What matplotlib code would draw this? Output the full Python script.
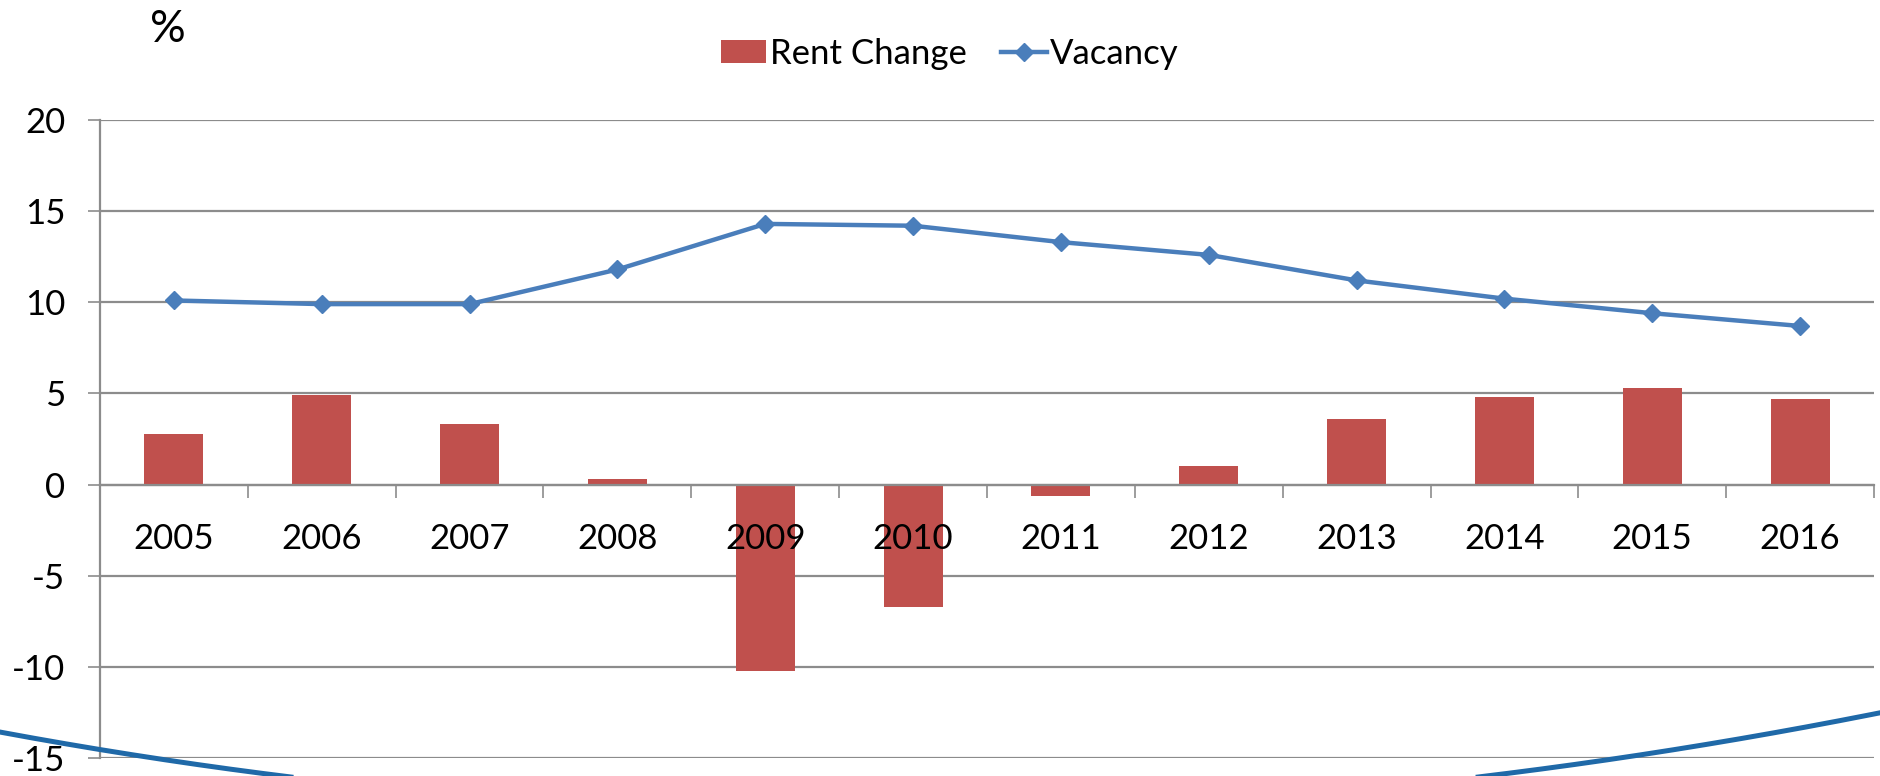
import matplotlib.pyplot as plt
import numpy as np
from matplotlib.lines import Line2D

plt.rcParams['font.family'] = ['Lato', 'DejaVu Sans']

years = ['2005', '2006', '2007', '2008', '2009', '2010',
         '2011', '2012', '2013', '2014', '2015', '2016']
rent_change = [2.8, 4.9, 3.3, 0.3, -10.2, -6.7, -0.6, 1.0, 3.6, 4.8, 5.3, 4.7]
vacancy = [10.1, 9.9, 9.9, 11.8, 14.3, 14.2, 13.3, 12.6, 11.2, 10.2, 9.4, 8.7]
y_ticks = [-15, -10, -5, 0, 5, 10, 15, 20]

colors = {
    "bar": "#C0504D",
    "line": "#4A7EBB",
    "grid": "#8C8C8C",
    "swoosh": "#1F69A8",
}

W, H = 1881, 776
fig = plt.figure(figsize=(W / 100, H / 100), dpi=100)
ax = fig.add_axes([100 / W, 1 - 758 / H, 1774 / W, (758 - 120) / H])

x = np.arange(len(years))
bars = ax.bar(x, rent_change, width=0.4, color=colors["bar"], zorder=2)
line, = ax.plot(x, vacancy, color=colors["line"], lw=3.2, marker='D',
                markersize=9, zorder=4)

for t in y_ticks:
    ax.axhline(t, color=colors["grid"], lw=1.6, zorder=0.5)

ax.set_xlim(-0.5, len(years) - 0.5)
ax.set_ylim(-15, 20)
ax.set_yticks(y_ticks)
ax.set_yticklabels([str(t) for t in y_ticks])

# category labels sit just under the zero line
ax.spines['bottom'].set_position(('data', 0))
ax.spines['bottom'].set_color(colors["grid"])
ax.spines['bottom'].set_linewidth(1.6)
ax.spines['left'].set_color(colors["grid"])
ax.spines['left'].set_linewidth(1.6)
ax.spines['top'].set_visible(False)
ax.spines['right'].set_visible(False)

ax.set_xticks(x)
ax.set_xticklabels(years)
ax.set_xticks(np.arange(len(years) + 1) - 0.5, minor=True)
ax.tick_params(axis='x', which='major', length=0, pad=28, labelsize=25)
ax.tick_params(axis='x', which='minor', length=9, width=1.2,
               color=colors["grid"], direction='out')
ax.tick_params(axis='y', length=9, width=1.2, color=colors["grid"],
               pad=16, labelsize=25)
ax.xaxis.set_zorder(3)

fig.text(168 / W, 1 - 30 / H, '%', ha='center', va='center', fontsize=32)

fig.legend([bars, line], ['Rent Change', 'Vacancy'], loc='center',
           bbox_to_anchor=(950 / W, 1 - 54 / H), ncol=2,
           frameon=False, fontsize=25, handlelength=1.3, handleheight=0.65,
           handletextpad=0.1, columnspacing=1.0)

# decorative swoosh along the bottom edge (pixel guide points, y down)
guide_x = [0, 133, 300, 1484, 1626, 1881]
guide_y = [730, 759, 776, 775, 759, 712]
coef = np.polyfit(guide_x, guide_y, 3)
px = np.linspace(0, W, 400)
py = np.polyval(coef, px)
fig.add_artist(Line2D(px / W, 1 - py / H, transform=fig.transFigure,
                      color=colors["swoosh"], lw=3.6, zorder=5))

fig.savefig('out.png', dpi=100)
